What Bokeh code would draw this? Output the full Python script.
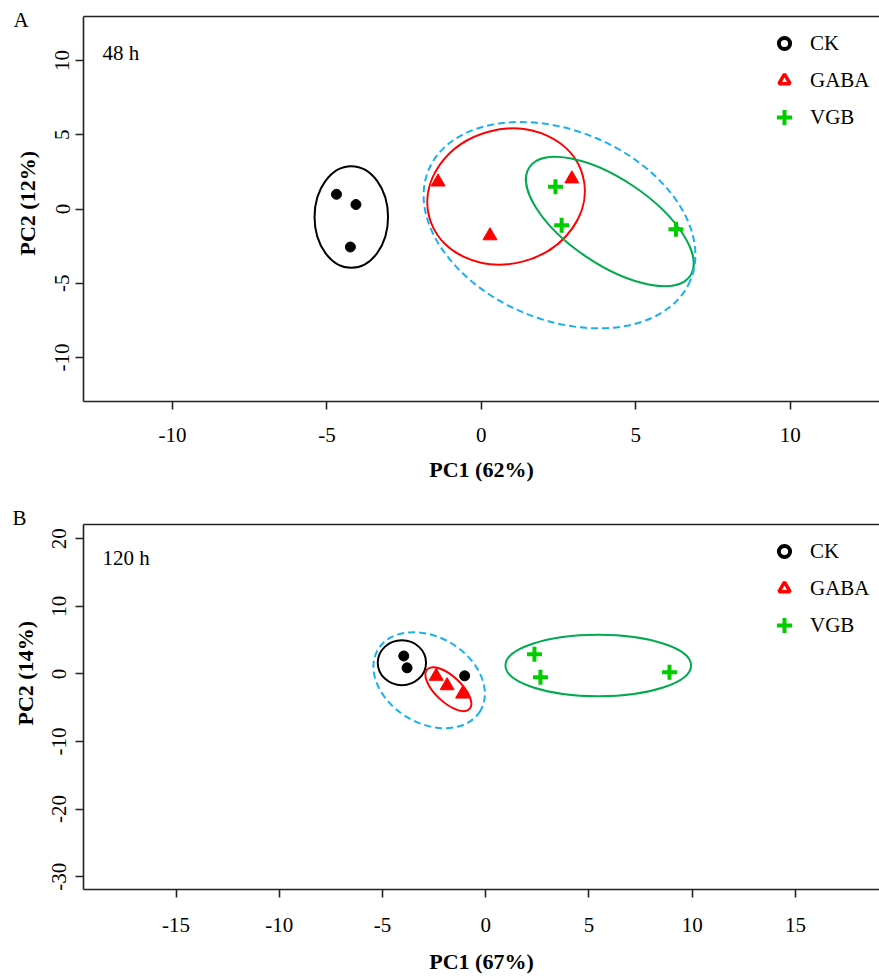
import numpy as np
from bokeh.plotting import figure
from bokeh.models import Range1d, FixedTicker, LinearAxis, Legend, LegendItem, Label, Title
from bokeh.layouts import column
from bokeh.embed import file_html
from bokeh.resources import INLINE

# ---------------- data: panel A, 48 h ----------------
ck48_x = [-4.69, -4.06, -4.24]
ck48_y = [0.99, 0.30, -2.56]
gaba48_x = [-1.40, 2.93, 0.28]
gaba48_y = [1.82, 2.03, -1.80]
vgb48_x = [2.40, 2.60, 6.30]
vgb48_y = [1.49, -1.09, -1.36]
# confidence ellipses: CK, GABA, VGB, GABA+VGB
ell48_cx = [-4.21, 0.80, 4.16, 2.53]
ell48_cy = [-0.54, 0.84, -0.84, -1.09]
ell48_w = [2.38, 5.15, 6.28, 9.20]
ell48_h = [6.84, 9.04, 5.72, 12.73]
ell48_angle = [0, 15, -34, -23]

# ---------------- data: panel B, 120 h ----------------
ck120_x = [-3.97, -3.81, -1.02]
ck120_y = [2.65, 0.89, -0.29]
gaba120_x = [-2.40, -1.87, -1.12]
gaba120_y = [-0.35, -1.75, -2.98]
vgb120_x = [2.36, 2.65, 8.90]
vgb120_y = [2.90, -0.50, 0.25]
# confidence ellipses: CK, GABA, VGB, CK+GABA
ell120_cx = [-4.06, -1.81, 5.45, -2.74]
ell120_cy = [1.65, -2.26, 1.25, -0.93]
ell120_w = [2.34, 2.81, 8.99, 5.78]
ell120_h = [6.64, 3.83, 9.10, 12.74]
ell120_angle = [0, -43, 0, -31]

groups = ["CK", "GABA", "VGB"]
ticks48_x = [-10, -5, 0, 5, 10]
ticks48_y = [-10, -5, 0, 5, 10]
ticks120_x = [-15, -10, -5, 0, 5, 10, 15]
ticks120_y = [-30, -20, -10, 0, 10, 20]

# ---------------- styles ----------------
FONT = "Liberation Serif"
AX = "#222222"
ELL_COLORS = ["#000000", "#FF0000", "#00AA50", "#1AB0F0"]
ELL_DASH = ["solid", "solid", "solid", "7 4"]
PT_RED = "#FF0000"
PT_GREEN = "#00CC00"
NAN1 = np.array([np.nan])


def make_panel(height, border, xr, yr, xticks, yticks, pts, ell, cfg):
    left, top, bottom = border
    p = figure(width=879, height=height, x_range=Range1d(*xr), y_range=Range1d(*yr),
               output_backend="svg", toolbar_location=None,
               min_border_left=left, min_border_right=0,
               min_border_top=top, min_border_bottom=bottom)
    p.outline_line_color = None
    p.grid.visible = False
    p.background_fill_color = "white"

    for ax, ticks in ((p.xaxis[0], xticks), (p.yaxis[0], yticks)):
        ax.ticker = FixedTicker(ticks=ticks)
        ax.major_label_overrides = {t: str(t) for t in ticks}
        ax.axis_line_color = AX
        ax.axis_line_width = 1.6
        ax.major_tick_line_color = AX
        ax.major_tick_line_width = 1.6
        ax.major_tick_out = 8
        ax.major_tick_in = 0
        ax.minor_tick_line_color = None
        ax.major_label_text_font = FONT
        ax.major_label_text_font_size = "21px"
        ax.major_label_text_color = "black"
    p.xaxis.major_label_standoff = cfg["x_standoff"]
    p.yaxis.major_label_standoff = cfg["y_standoff"]
    p.yaxis.major_label_orientation = "vertical"
    p.xaxis.axis_label = cfg["xlabel"]
    p.xaxis.axis_label_standoff = cfg["xlabel_standoff"]
    p.xaxis.axis_label_text_font = FONT
    p.xaxis.axis_label_text_font_size = "22px"
    p.xaxis.axis_label_text_font_style = "bold"
    p.xaxis.axis_label_text_color = "black"

    top_ax = LinearAxis(ticker=FixedTicker(ticks=[]), major_label_text_font_size="0px",
                        major_tick_out=0, major_tick_in=0, minor_tick_out=0, minor_tick_in=0,
                        major_label_standoff=0, axis_line_color=AX, axis_line_width=1.6)
    p.add_layout(top_ax, "above")

    # y axis title, placed along the axis like the original
    p.add_layout(Title(text=cfg["ylabel"], align="left", vertical_align="top",
                       offset=cfg["ylabel_offset"], standoff=cfg["ylabel_standoff"],
                       text_font=FONT, text_font_size="22px", text_font_style="bold",
                       text_color="black"), "left")
    # panel letter
    p.add_layout(Title(text=cfg["letter"], align="left", vertical_align="bottom",
                       offset=cfg["letter_offset"], standoff=cfg["letter_standoff"],
                       text_font=FONT, text_font_size="21px", text_font_style="normal",
                       text_color="black"), "above")

    cx, cy, w, h, ang = ell
    for i in range(len(cx)):
        p.ellipse(x=[cx[i]], y=[cy[i]], width=[w[i]], height=[h[i]], angle=[ang[i]],
                  angle_units="deg", fill_color=None, line_color=ELL_COLORS[i],
                  line_width=2, line_dash=ELL_DASH[i])

    (ckx, cky), (gx, gy), (vx, vy) = pts
    p.scatter(ckx, cky, marker="circle", size=10, fill_color="black", line_color="black")
    p.scatter(gx, gy, marker="triangle", size=14, fill_color=PT_RED, line_color=PT_RED)
    p.scatter(vx, vy, marker="cross", size=15, line_color=PT_GREEN, line_width=4)

    # legend-only renderers (no visible point in the plot)
    r1 = p.scatter(NAN1, NAN1, marker="circle", fill_color="white", line_color="black", line_width=4)
    r2 = p.scatter(NAN1, NAN1, marker="triangle", fill_color="white", line_color=PT_RED, line_width=3.5)
    r3 = p.scatter(NAN1, NAN1, marker="cross", line_color=PT_GREEN, line_width=4, line_cap="square")
    leg = Legend(items=[LegendItem(label=g, renderers=[r]) for g, r in zip(groups, [r1, r2, r3])],
                 location=cfg["legend"], glyph_width=28, glyph_height=28, spacing=9,
                 label_standoff=12, padding=0, margin=0, border_line_color=None,
                 background_fill_alpha=0, label_text_font=FONT, label_text_font_size="21px",
                 label_text_color="black")
    p.add_layout(leg)

    p.add_layout(Label(x=cfg["time_pos"][0], y=cfg["time_pos"][1], x_units="screen",
                       y_units="screen", text=cfg["time"], text_font=FONT,
                       text_font_size="21px", text_color="black", text_baseline="alphabetic"))
    return p


# (the two panels share the same frame left edge in a column layout)
cfgA = dict(xlabel="PC1 (62%)", ylabel="PC2 (12%)", letter="A", time="48 h",
            x_standoff=18, y_standoff=6, xlabel_standoff=12,
            ylabel_offset=146, ylabel_standoff=22, letter_offset=-70, letter_standoff=-31,
            legend=(687, 270), time_pos=(19, 349))
cfgB = dict(xlabel="PC1 (67%)", ylabel="PC2 (14%)", letter="B", time="120 h",
            x_standoff=20, y_standoff=9, xlabel_standoff=14,
            ylabel_offset=164, ylabel_standoff=20, letter_offset=-71, letter_standoff=-11,
            legend=(687, 250), time_pos=(19, 332))

pA = make_panel(490, (83, 16, 89), (-12.88, 12.89), (-12.96, 12.96), ticks48_x, ticks48_y,
                ((ck48_x, ck48_y), (gaba48_x, gaba48_y), (vgb48_x, vgb48_y)),
                (ell48_cx, ell48_cy, ell48_w, ell48_h, ell48_angle), cfgA)
pB = make_panel(486, (83, 34, 86), (-19.48, 19.07), (-31.9, 22.1), ticks120_x, ticks120_y,
                ((ck120_x, ck120_y), (gaba120_x, gaba120_y), (vgb120_x, vgb120_y)),
                (ell120_cx, ell120_cy, ell120_w, ell120_h, ell120_angle), cfgB)

layout = column(pA, pB)
open("out.html", "w").write(file_html(layout, INLINE))
